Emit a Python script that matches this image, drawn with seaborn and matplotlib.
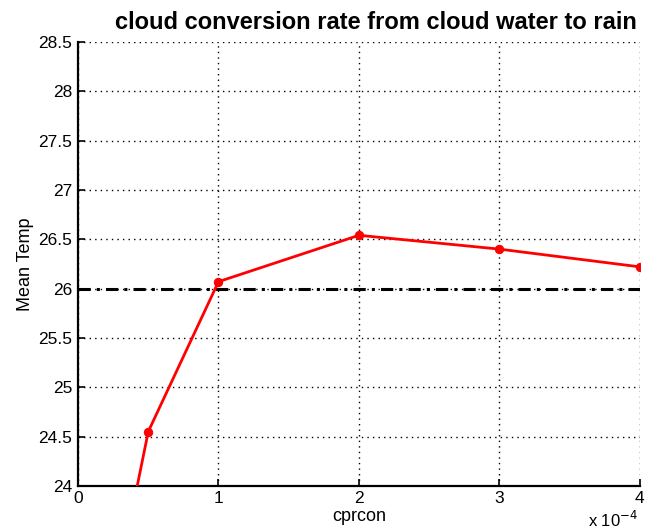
import matplotlib
matplotlib.use("Agg")
import matplotlib.pyplot as plt
import seaborn as sns
import pandas as pd

cprcon = [0.25e-4, 0.5e-4, 1e-4, 2e-4, 3e-4, 4e-4]
mean_temp = [22.8, 24.55, 26.07, 26.54, 26.40, 26.22]
ref_x = [0, 4e-4]
ref_temp = [26.0, 26.0]
xticks = [0, 1e-4, 2e-4, 3e-4, 4e-4]
xtick_labels = ["0", "1", "2", "3", "4"]
yticks = [24, 24.5, 25, 25.5, 26, 26.5, 27, 27.5, 28, 28.5]
ytick_labels = ["24", "24.5", "25", "25.5", "26", "26.5", "27", "27.5", "28", "28.5"]

sns.set_style("ticks")
plt.rcParams['font.family'] = ['Liberation Sans', 'DejaVu Sans']
plt.rcParams['text.color'] = 'black'
plt.rcParams['axes.labelcolor'] = 'black'

fig = plt.figure(figsize=(6.45, 5.31), dpi=100)
ax = fig.add_axes([0.121, 0.085, 0.871, 0.836])

df = pd.DataFrame({"cprcon": cprcon, "temp": mean_temp})
dref = pd.DataFrame({"x": ref_x, "y": ref_temp})

sns.lineplot(data=dref, x="x", y="y", ax=ax, color="black", linewidth=2.2,
             linestyle=(0, (4, 2, 1, 2)), zorder=2)
sns.lineplot(data=df, x="cprcon", y="temp", ax=ax, color="red", linewidth=2,
             marker="o", markersize=6, markeredgecolor="red", zorder=3)

ax.set_xlim(0, 4e-4)
ax.set_ylim(24, 28.5)
ax.set_xticks(xticks)
ax.set_xticklabels(xtick_labels)
ax.set_yticks(yticks)
ax.set_yticklabels(ytick_labels)
ax.grid(True, linestyle=(0, (1, 3)), color="black", linewidth=1)
ax.tick_params(direction="in", length=5, width=1.2, labelsize=12.5, colors="black",
               top=False, right=False, pad=4)
for side in ("top", "right"):
    ax.spines[side].set_visible(False)
for side in ("left", "bottom"):
    ax.spines[side].set_linewidth(1.6)
    ax.spines[side].set_color("black")

ax.set_xlabel("cprcon", fontsize=13, labelpad=1)
ax.set_ylabel("Mean Temp", fontsize=13, labelpad=3)
ax.set_title("cloud conversion rate from cloud water to rain", fontsize=17,
             fontweight="bold", pad=9, x=0.53, color="black")
ax.text(0.997, -0.055, r"x 10$^{-4}$", transform=ax.transAxes, ha="right",
        va="top", fontsize=12)

fig.savefig("out.png", dpi=100)
